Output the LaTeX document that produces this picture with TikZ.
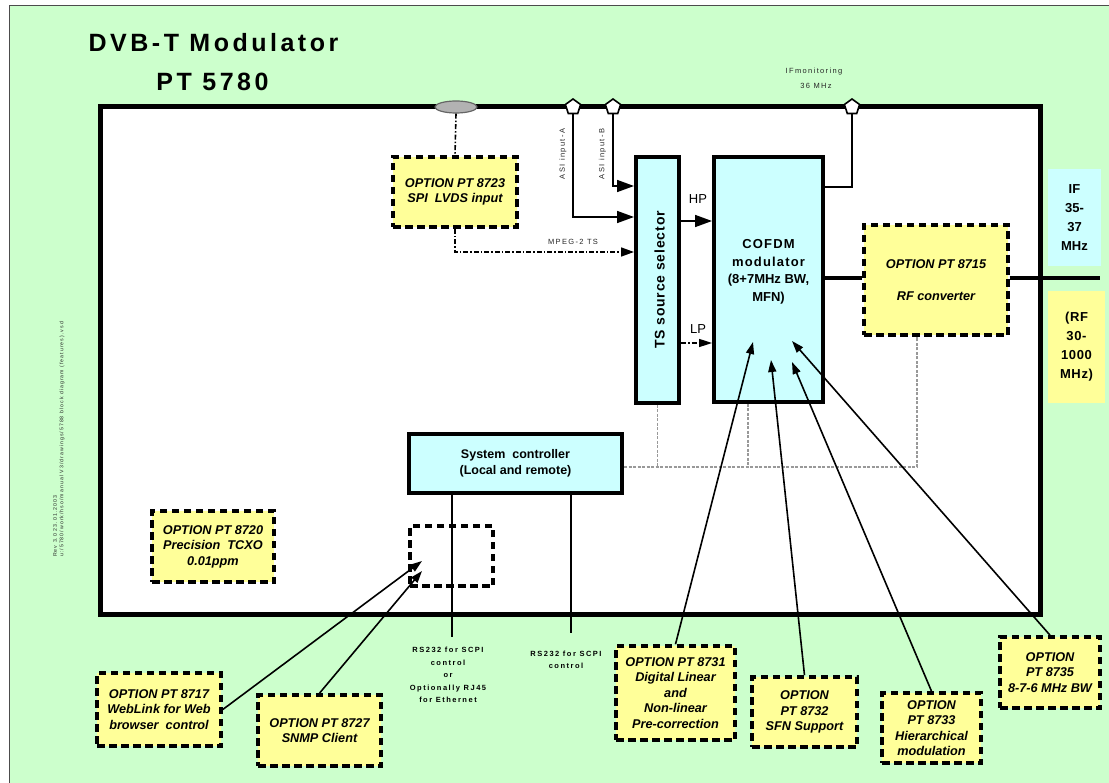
\documentclass[tikz,border=0pt]{standalone}
\usepackage{fontspec}
\setmainfont{Liberation Sans}
\usetikzlibrary{arrows.meta,shapes.geometric}
\definecolor{bggreen}{HTML}{CCFFCC}
\definecolor{optyellow}{HTML}{FFFF99}
\definecolor{boxcyan}{HTML}{CCFFFF}
\definecolor{dgray}{HTML}{999999}
\newcommand{\optfont}{\fontsize{12.7}{15.5}\selectfont\bfseries\itshape}
\begin{document}
\begin{tikzpicture}[x=1pt,y=-1pt,
  opt/.style={draw=black, fill=optyellow, line width=3.6pt, dash pattern=on 7.5pt off 4.5pt, align=center, inner sep=0pt, font=\optfont},
  cyanbox/.style={draw=black, fill=boxcyan, line width=4pt, inner sep=0pt},
  arr/.style={line width=1.6pt, -{Triangle[length=17pt,width=12pt]}},
  optarr/.style={line width=1.6pt, -{Triangle[length=12pt,width=8pt]}},
  dashdot/.style={line width=1.6pt, dash pattern=on 5pt off 2pt on 1.5pt off 2pt},
  graydash/.style={draw=dgray, line width=1.3pt, dash pattern=on 3pt off 1.5pt},
  small/.style={font={\fontsize{7.5}{8.5}\selectfont\addfontfeature{LetterSpace=18}}},
  smallbold/.style={font={\fontsize{7.5}{12.5}\selectfont\bfseries\addfontfeature{LetterSpace=20}}, align=center, inner sep=0pt},
  port/.style={regular polygon, regular polygon sides=5, minimum size=16pt, inner sep=0pt, draw=black, fill=white, line width=1.6pt},
]
\useasboundingbox (0,0) rectangle (1109,783);
\fill[white] (0,0) rectangle (1109,783);
\begin{scope}
\clip (0,0) rectangle (1109,783);
\draw[fill=bggreen, draw=black!70, line width=1.2pt] (9.5,5.5) rectangle (1130,800);
\end{scope}

% titles
\node[anchor=base, font={\fontsize{25}{30}\selectfont\bfseries\addfontfeature{LetterSpace=14}}] (title1) at (213.5,51.7) {DVB-T Modulator};
\node[anchor=base, font={\fontsize{25}{30}\selectfont\bfseries\addfontfeature{LetterSpace=14}}] (title2) at (212.5,90.7) {PT 5780};

% footer
\node[rotate=90, anchor=north west, align=left, inner sep=0pt, text=black!85, font={\fontsize{5.2}{6.5}\selectfont\addfontfeature{LetterSpace=20}}] (footer) at (53,557) {Rev 3.0 23.01.2003\\u:/5780/work/hso/manual V3/drawings/5788 block diagram (features).vsd};

% unit frame
\draw[line width=5pt, fill=white] (100,107) rectangle (1040,614);

% ports
\node[ellipse, minimum width=42pt, minimum height=12pt, inner sep=0pt, fill=black!30, draw=black!60, line width=1.2pt] (lvds) at (456,107) {};
\node[port] (pa) at (573,107) {};
\node[port] (pb) at (613,107) {};
\node[port] (pc) at (852,107) {};

\node[small, text=black!85] (ifmon1) at (814,72) {IFmonitoring};
\node[small, text=black!85] (ifmon2) at (816,85.5) {36 MHz};

% boxes
\node[opt, minimum width=124pt, minimum height=70pt] (o8723) at (455,192) {OPTION PT 8723\\SPI\ \ LVDS input};
\node[cyanbox, minimum width=43pt, minimum height=246pt] (ts) at (657.5,280) {};
\node[rotate=90, font={\fontsize{14}{16}\selectfont\bfseries\addfontfeature{LetterSpace=6}}] (tstext) at (659.5,280) {TS source selector};
\node[cyanbox, minimum width=109pt, minimum height=245pt] (cofdm) at (768.5,279.5) {};
\node[align=center, font={\fontsize{13}{17.5}\selectfont\bfseries}] (cofdmtext) at (768.5,272) {{\addfontfeature{LetterSpace=9}COFDM}\\{\addfontfeature{LetterSpace=9}modulator}\\(8+7MHz BW,\\MFN)};
\node[opt, minimum width=144pt, minimum height=110pt] (rf) at (936,280) {OPTION PT 8715\\[16pt]RF converter};
\node[fill=boxcyan, minimum width=53pt, minimum height=97pt, inner sep=0pt, align=center, font={\fontsize{13}{19}\selectfont\bfseries}] (ifbox) at (1074.5,217.5) {IF\\35-\\37\\MHz};
\node[fill=optyellow, minimum width=57pt, minimum height=112pt, inner sep=0pt, align=center, font={\fontsize{13}{19}\selectfont\bfseries\addfontfeature{LetterSpace=5}}] (rfbox) at (1076.5,347) {(RF\\30-\\1000\\MHz)};
\node[cyanbox, minimum width=213pt, minimum height=59pt, align=center, font={\fontsize{12.5}{16}\selectfont\bfseries}] (sys) at (515.5,463.5) {System\ \ controller\\(Local and remote)};
\node[draw=black, line width=3.6pt, dash pattern=on 7.5pt off 4.5pt, minimum width=83pt, minimum height=60pt, inner sep=0pt] (empty) at (451.5,556) {};
\node[opt, minimum width=122pt, minimum height=71pt] (o8720) at (213,546.5) {OPTION PT 8720\\Precision\ \ TCXO\\0.01ppm};
\node[opt, minimum width=124pt, minimum height=73pt] (o8717) at (159,709.5) {OPTION PT 8717\\WebLink for Web\\browser\ \ control};
\node[opt, minimum width=123pt, minimum height=71pt] (o8727) at (319.5,730.5) {OPTION PT 8727\\SNMP Client};
\node[opt, minimum width=119pt, minimum height=94pt] (o8731) at (675.5,693) {OPTION PT 8731\\Digital Linear\\and\\Non-linear\\Pre-correction};
\node[opt, minimum width=105pt, minimum height=70pt] (o8732) at (804.5,712) {OPTION\\PT 8732\\SFN Support};
\node[opt, minimum width=99pt, minimum height=70pt] (o8733) at (931.5,728) {OPTION\\PT 8733\\Hierarchical\\modulation};
\node[opt, minimum width=100pt, minimum height=71pt] (o8735) at (1050,672.5) {OPTION\\PT 8735\\8-7-6 MHz BW};

% helper coordinates
\coordinate (ympeg) at (0,252);
\coordinate (yasia) at (0,217);
\coordinate (yasib) at (0,186);
\coordinate (yhp) at (0,221);
\coordinate (ylp) at (0,343);
\coordinate (yif) at (0,187);
\coordinate (yrf) at (0,278);
\coordinate (rfout) at (1100,278);
\coordinate (ybus) at (0,467);
\coordinate (xcof) at (748,0);
\coordinate (xrf) at (917,0);
\coordinate (rs1end) at (452,637);
\coordinate (rs2end) at (571,633);
\coordinate (t8717) at (422,561);
\coordinate (t8727) at (422,571);
\coordinate (t8731) at (753,342);
\coordinate (t8732) at (771,360);
\coordinate (t8733) at (792,362);
\coordinate (t8735) at (792,341);

% LVDS / MPEG
\draw[dashdot] (lvds.south) -- (o8723.north);
\draw[dashdot, -{Triangle[length=13pt,width=9pt]}] (o8723.south) |- (ts.west |- ympeg);
\node[small, text=black!85] (mpeglbl) at (573,241.5) {MPEG-2 TS};

% ASI
\draw[arr] (pa.south) |- (ts.west |- yasia);
\draw[arr] (pb.south) |- (ts.west |- yasib);
\node[small, rotate=90, text=black!85] (asialbl) at (563,154) {ASI input-A};
\node[small, rotate=90, text=black!85] (asiblbl) at (602.5,154) {ASI input-B};

% HP / LP
\draw[arr] (ts.east |- yhp) -- (cofdm.west |- yhp);
\node[font={\fontsize{13}{14}\selectfont}] (hplbl) at (698,199) {HP};
\draw[dashdot, -{Triangle[length=13pt,width=8pt]}] (ts.east |- ylp) -- (cofdm.west |- ylp);
\node[font={\fontsize{13}{14}\selectfont}] (lplbl) at (698,329) {LP};

% IF monitoring
\draw[line width=1.6pt] (cofdm.east |- yif) -| (pc.south);

% RF path
\draw[line width=3.8pt] (cofdm.east |- yrf) -- (rf.west |- yrf);
\draw[line width=3.8pt] (rf.east |- yrf) -- (rfout);

% control bus
\draw[graydash] (sys.east |- ybus) -| (rf.south -| xrf);
\draw[graydash] (ts.south) -- (ts.south |- ybus);
\draw[graydash] (cofdm.south -| xcof) -- (xcof |- ybus);

% RS232
\draw[line width=1.6pt] (sys.south -| rs1end) -- (rs1end);
\draw[line width=1.6pt] (sys.south -| rs2end) -- (rs2end);
\node[smallbold] (rs1lbl) at (448,675) {RS232 for SCPI\\control\\or\\Optionally RJ45\\for Ethernet};
\node[smallbold] (rs2lbl) at (566,660) {RS232 for SCPI\\control};

% option arrows
\draw[optarr] (o8717.east) -- (t8717);
\draw[optarr] (o8727.north) -- (t8727);
\draw[optarr] (o8731.north) -- (t8731);
\draw[optarr] (o8732.north) -- (t8732);
\draw[optarr] (o8733.north) -- (t8733);
\draw[optarr] (o8735.north) -- (t8735);
\end{tikzpicture}
\end{document}
